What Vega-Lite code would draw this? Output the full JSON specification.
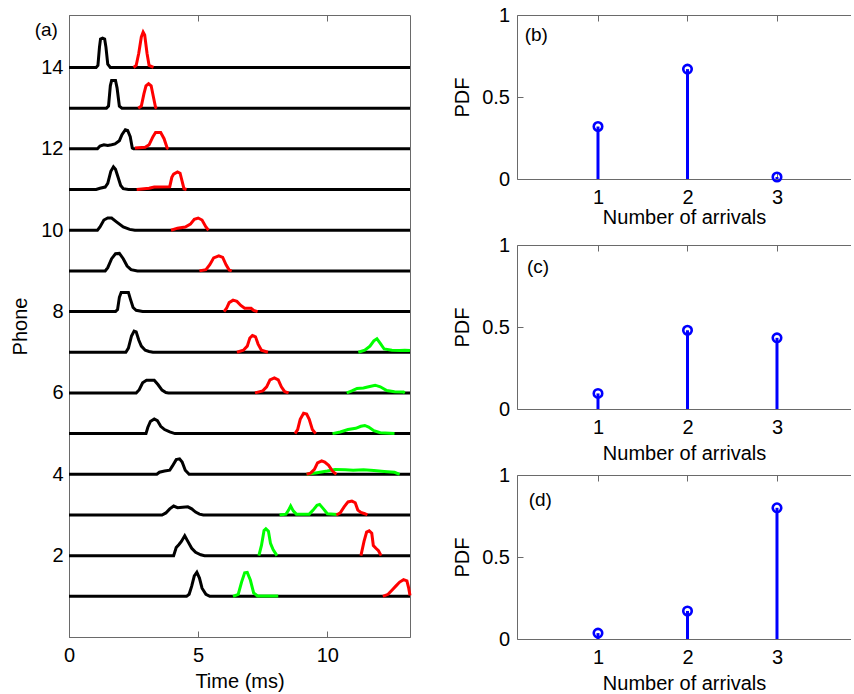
{
  "$schema": "https://vega.github.io/schema/vega-lite/v6.json",
  "padding": {"left": 10, "top": 5, "right": 0, "bottom": 0},
  "background": "white",
  "config": {
    "font": "Liberation Sans",
    "view": {"stroke": null},
    "axis": {
      "labelFont": "Liberation Sans", "titleFont": "Liberation Sans",
      "labelFontSize": 20, "titleFontSize": 20, "titleFontWeight": "normal",
      "labelColor": "#000", "titleColor": "#000",
      "domainColor": "#6a6a6a", "tickColor": "#6a6a6a",
      "tickSize": -6, "grid": false, "labelFlush": false, "labelOverlap": false, "labelBound": false
    }
  },
  "bounds": "flush",
  "spacing": 107,
  "datasets": {
    "tr": [
      {"c":"k","p":14,"t":0,"v":14},{"c":"k","p":14,"t":1.05,"v":14},{"c":"k","p":14,"t":1.12,"v":14.05},{"c":"k","p":14,"t":1.18,"v":14.5},{"c":"k","p":14,"t":1.22,"v":14.7},{"c":"k","p":14,"t":1.3,"v":14.72},{"c":"k","p":14,"t":1.38,"v":14.7},{"c":"k","p":14,"t":1.43,"v":14.5},{"c":"k","p":14,"t":1.5,"v":14.08},{"c":"k","p":14,"t":1.6,"v":14},{"c":"k","p":14,"t":13.2,"v":14},
      {"c":"r","p":14,"t":2.5,"v":14},{"c":"r","p":14,"t":2.6,"v":14.05},{"c":"r","p":14,"t":2.7,"v":14.35},{"c":"r","p":14,"t":2.8,"v":14.75},{"c":"r","p":14,"t":2.87,"v":14.87},{"c":"r","p":14,"t":2.93,"v":14.8},{"c":"r","p":14,"t":3.02,"v":14.35},{"c":"r","p":14,"t":3.1,"v":14.05},{"c":"r","p":14,"t":3.27,"v":14},
      {"c":"k","p":13,"t":0,"v":13},{"c":"k","p":13,"t":1.45,"v":13},{"c":"k","p":13,"t":1.53,"v":13.05},{"c":"k","p":13,"t":1.6,"v":13.55},{"c":"k","p":13,"t":1.65,"v":13.68},{"c":"k","p":13,"t":1.8,"v":13.68},{"c":"k","p":13,"t":1.86,"v":13.5},{"c":"k","p":13,"t":1.95,"v":13.05},{"c":"k","p":13,"t":2.05,"v":13},{"c":"k","p":13,"t":13.2,"v":13},
      {"c":"r","p":13,"t":2.68,"v":13},{"c":"r","p":13,"t":2.8,"v":13.05},{"c":"r","p":13,"t":2.9,"v":13.35},{"c":"r","p":13,"t":2.98,"v":13.55},{"c":"r","p":13,"t":3.08,"v":13.6},{"c":"r","p":13,"t":3.18,"v":13.55},{"c":"r","p":13,"t":3.26,"v":13.3},{"c":"r","p":13,"t":3.35,"v":13.02},{"c":"r","p":13,"t":3.4,"v":13},
      {"c":"k","p":12,"t":0,"v":12},{"c":"k","p":12,"t":1.1,"v":12},{"c":"k","p":12,"t":1.2,"v":12.07},{"c":"k","p":12,"t":1.35,"v":12.1},{"c":"k","p":12,"t":1.5,"v":12.08},{"c":"k","p":12,"t":1.65,"v":12.1},{"c":"k","p":12,"t":1.78,"v":12.12},{"c":"k","p":12,"t":1.95,"v":12.2},{"c":"k","p":12,"t":2.05,"v":12.35},{"c":"k","p":12,"t":2.18,"v":12.47},{"c":"k","p":12,"t":2.27,"v":12.45},{"c":"k","p":12,"t":2.37,"v":12.3},{"c":"k","p":12,"t":2.45,"v":12.02},{"c":"k","p":12,"t":2.5,"v":12},{"c":"k","p":12,"t":13.2,"v":12},
      {"c":"r","p":12,"t":2.55,"v":12.02},{"c":"r","p":12,"t":2.95,"v":12.04},{"c":"r","p":12,"t":3.1,"v":12.1},{"c":"r","p":12,"t":3.25,"v":12.3},{"c":"r","p":12,"t":3.35,"v":12.4},{"c":"r","p":12,"t":3.55,"v":12.4},{"c":"r","p":12,"t":3.68,"v":12.25},{"c":"r","p":12,"t":3.8,"v":12.02},{"c":"r","p":12,"t":3.85,"v":12},
      {"c":"k","p":11,"t":0,"v":11},{"c":"k","p":11,"t":1.05,"v":11},{"c":"k","p":11,"t":1.2,"v":11.03},{"c":"k","p":11,"t":1.4,"v":11.06},{"c":"k","p":11,"t":1.5,"v":11.15},{"c":"k","p":11,"t":1.62,"v":11.45},{"c":"k","p":11,"t":1.72,"v":11.56},{"c":"k","p":11,"t":1.8,"v":11.5},{"c":"k","p":11,"t":1.9,"v":11.3},{"c":"k","p":11,"t":2.0,"v":11.1},{"c":"k","p":11,"t":2.1,"v":11.02},{"c":"k","p":11,"t":2.3,"v":11},{"c":"k","p":11,"t":13.2,"v":11},
      {"c":"r","p":11,"t":2.62,"v":11},{"c":"r","p":11,"t":3.1,"v":11.03},{"c":"r","p":11,"t":3.3,"v":11.06},{"c":"r","p":11,"t":3.9,"v":11.07},{"c":"r","p":11,"t":3.98,"v":11.3},{"c":"r","p":11,"t":4.05,"v":11.38},{"c":"r","p":11,"t":4.2,"v":11.43},{"c":"r","p":11,"t":4.3,"v":11.4},{"c":"r","p":11,"t":4.38,"v":11.2},{"c":"r","p":11,"t":4.45,"v":11.02},{"c":"r","p":11,"t":4.55,"v":11},
      {"c":"k","p":10,"t":0,"v":10},{"c":"k","p":10,"t":1.1,"v":10},{"c":"k","p":10,"t":1.2,"v":10.08},{"c":"k","p":10,"t":1.35,"v":10.25},{"c":"k","p":10,"t":1.5,"v":10.3},{"c":"k","p":10,"t":1.65,"v":10.3},{"c":"k","p":10,"t":1.85,"v":10.2},{"c":"k","p":10,"t":2.1,"v":10.08},{"c":"k","p":10,"t":2.35,"v":10.02},{"c":"k","p":10,"t":2.55,"v":10},{"c":"k","p":10,"t":13.2,"v":10},
      {"c":"r","p":10,"t":3.95,"v":10},{"c":"r","p":10,"t":4.2,"v":10.05},{"c":"r","p":10,"t":4.5,"v":10.08},{"c":"r","p":10,"t":4.7,"v":10.15},{"c":"r","p":10,"t":4.85,"v":10.27},{"c":"r","p":10,"t":5.0,"v":10.3},{"c":"r","p":10,"t":5.15,"v":10.25},{"c":"r","p":10,"t":5.3,"v":10.08},{"c":"r","p":10,"t":5.4,"v":10},
      {"c":"k","p":9,"t":0,"v":9},{"c":"k","p":9,"t":1.4,"v":9},{"c":"k","p":9,"t":1.5,"v":9.08},{"c":"k","p":9,"t":1.65,"v":9.3},{"c":"k","p":9,"t":1.8,"v":9.42},{"c":"k","p":9,"t":1.95,"v":9.43},{"c":"k","p":9,"t":2.1,"v":9.3},{"c":"k","p":9,"t":2.25,"v":9.12},{"c":"k","p":9,"t":2.4,"v":9.03},{"c":"k","p":9,"t":2.65,"v":9},{"c":"k","p":9,"t":13.2,"v":9},
      {"c":"r","p":9,"t":5.05,"v":9},{"c":"r","p":9,"t":5.3,"v":9.03},{"c":"r","p":9,"t":5.45,"v":9.15},{"c":"r","p":9,"t":5.6,"v":9.32},{"c":"r","p":9,"t":5.8,"v":9.37},{"c":"r","p":9,"t":5.95,"v":9.33},{"c":"r","p":9,"t":6.08,"v":9.15},{"c":"r","p":9,"t":6.2,"v":9.02},{"c":"r","p":9,"t":6.3,"v":9},
      {"c":"k","p":8,"t":0,"v":8},{"c":"k","p":8,"t":1.8,"v":8},{"c":"k","p":8,"t":1.88,"v":8.05},{"c":"k","p":8,"t":1.95,"v":8.35},{"c":"k","p":8,"t":2.02,"v":8.47},{"c":"k","p":8,"t":2.3,"v":8.47},{"c":"k","p":8,"t":2.38,"v":8.3},{"c":"k","p":8,"t":2.48,"v":8.1},{"c":"k","p":8,"t":2.6,"v":8.03},{"c":"k","p":8,"t":2.85,"v":8},{"c":"k","p":8,"t":13.2,"v":8},
      {"c":"r","p":8,"t":6.0,"v":8},{"c":"r","p":8,"t":6.1,"v":8.08},{"c":"r","p":8,"t":6.2,"v":8.22},{"c":"r","p":8,"t":6.35,"v":8.28},{"c":"r","p":8,"t":6.5,"v":8.25},{"c":"r","p":8,"t":6.65,"v":8.15},{"c":"r","p":8,"t":6.8,"v":8.08},{"c":"r","p":8,"t":7.05,"v":8.08},{"c":"r","p":8,"t":7.15,"v":8.03},{"c":"r","p":8,"t":7.3,"v":8},
      {"c":"k","p":7,"t":0,"v":7},{"c":"k","p":7,"t":2.2,"v":7},{"c":"k","p":7,"t":2.3,"v":7.1},{"c":"k","p":7,"t":2.42,"v":7.4},{"c":"k","p":7,"t":2.52,"v":7.52},{"c":"k","p":7,"t":2.6,"v":7.5},{"c":"k","p":7,"t":2.7,"v":7.3},{"c":"k","p":7,"t":2.8,"v":7.15},{"c":"k","p":7,"t":2.95,"v":7.05},{"c":"k","p":7,"t":3.1,"v":7.02},{"c":"k","p":7,"t":3.25,"v":7},{"c":"k","p":7,"t":13.2,"v":7},
      {"c":"r","p":7,"t":6.5,"v":7},{"c":"r","p":7,"t":6.75,"v":7.05},{"c":"r","p":7,"t":6.9,"v":7.15},{"c":"r","p":7,"t":7.0,"v":7.35},{"c":"r","p":7,"t":7.1,"v":7.41},{"c":"r","p":7,"t":7.22,"v":7.38},{"c":"r","p":7,"t":7.32,"v":7.2},{"c":"r","p":7,"t":7.45,"v":7.05},{"c":"r","p":7,"t":7.7,"v":7},
      {"c":"g","p":7,"t":11.2,"v":7},{"c":"g","p":7,"t":11.45,"v":7.05},{"c":"g","p":7,"t":11.65,"v":7.15},{"c":"g","p":7,"t":11.8,"v":7.28},{"c":"g","p":7,"t":11.92,"v":7.33},{"c":"g","p":7,"t":12.05,"v":7.22},{"c":"g","p":7,"t":12.2,"v":7.08},{"c":"g","p":7,"t":12.5,"v":7.05},{"c":"g","p":7,"t":12.8,"v":7.04},{"c":"g","p":7,"t":13.0,"v":7.05},{"c":"g","p":7,"t":13.2,"v":7.04},
      {"c":"k","p":6,"t":0,"v":6},{"c":"k","p":6,"t":2.6,"v":6},{"c":"k","p":6,"t":2.72,"v":6.08},{"c":"k","p":6,"t":2.85,"v":6.25},{"c":"k","p":6,"t":3.0,"v":6.31},{"c":"k","p":6,"t":3.3,"v":6.31},{"c":"k","p":6,"t":3.45,"v":6.2},{"c":"k","p":6,"t":3.6,"v":6.07},{"c":"k","p":6,"t":3.75,"v":6.01},{"c":"k","p":6,"t":3.85,"v":6},{"c":"k","p":6,"t":13.2,"v":6},
      {"c":"r","p":6,"t":7.2,"v":6},{"c":"r","p":6,"t":7.5,"v":6.05},{"c":"r","p":6,"t":7.65,"v":6.15},{"c":"r","p":6,"t":7.78,"v":6.32},{"c":"r","p":6,"t":7.95,"v":6.37},{"c":"r","p":6,"t":8.1,"v":6.32},{"c":"r","p":6,"t":8.22,"v":6.15},{"c":"r","p":6,"t":8.35,"v":6.03},{"c":"r","p":6,"t":8.5,"v":6},
      {"c":"g","p":6,"t":10.75,"v":6},{"c":"g","p":6,"t":10.95,"v":6.05},{"c":"g","p":6,"t":11.15,"v":6.11},{"c":"g","p":6,"t":11.4,"v":6.12},{"c":"g","p":6,"t":11.6,"v":6.15},{"c":"g","p":6,"t":11.85,"v":6.19},{"c":"g","p":6,"t":12.05,"v":6.15},{"c":"g","p":6,"t":12.3,"v":6.06},{"c":"g","p":6,"t":12.6,"v":6.03},{"c":"g","p":6,"t":12.95,"v":6.02},{"c":"g","p":6,"t":13.0,"v":6},
      {"c":"k","p":5,"t":0,"v":5},{"c":"k","p":5,"t":2.98,"v":5},{"c":"k","p":5,"t":3.05,"v":5.15},{"c":"k","p":5,"t":3.15,"v":5.3},{"c":"k","p":5,"t":3.3,"v":5.36},{"c":"k","p":5,"t":3.42,"v":5.32},{"c":"k","p":5,"t":3.55,"v":5.18},{"c":"k","p":5,"t":3.7,"v":5.1},{"c":"k","p":5,"t":3.9,"v":5.04},{"c":"k","p":5,"t":4.1,"v":5},{"c":"k","p":5,"t":13.2,"v":5},
      {"c":"r","p":5,"t":8.75,"v":5},{"c":"r","p":5,"t":8.85,"v":5.1},{"c":"r","p":5,"t":8.95,"v":5.35},{"c":"r","p":5,"t":9.08,"v":5.5},{"c":"r","p":5,"t":9.2,"v":5.48},{"c":"r","p":5,"t":9.3,"v":5.35},{"c":"r","p":5,"t":9.42,"v":5.1},{"c":"r","p":5,"t":9.55,"v":5},
      {"c":"g","p":5,"t":10.2,"v":5},{"c":"g","p":5,"t":10.5,"v":5.04},{"c":"g","p":5,"t":10.8,"v":5.1},{"c":"g","p":5,"t":11.1,"v":5.13},{"c":"g","p":5,"t":11.3,"v":5.18},{"c":"g","p":5,"t":11.45,"v":5.2},{"c":"g","p":5,"t":11.6,"v":5.16},{"c":"g","p":5,"t":11.8,"v":5.07},{"c":"g","p":5,"t":12.05,"v":5.02},{"c":"g","p":5,"t":12.6,"v":5},
      {"c":"k","p":4,"t":0,"v":4},{"c":"k","p":4,"t":3.4,"v":4},{"c":"k","p":4,"t":3.5,"v":4.05},{"c":"k","p":4,"t":3.7,"v":4.08},{"c":"k","p":4,"t":3.9,"v":4.1},{"c":"k","p":4,"t":4.0,"v":4.2},{"c":"k","p":4,"t":4.15,"v":4.36},{"c":"k","p":4,"t":4.28,"v":4.38},{"c":"k","p":4,"t":4.38,"v":4.3},{"c":"k","p":4,"t":4.5,"v":4.1},{"c":"k","p":4,"t":4.65,"v":4},{"c":"k","p":4,"t":13.2,"v":4},
      {"c":"g","p":4,"t":9.2,"v":4},{"c":"g","p":4,"t":9.6,"v":4.04},{"c":"g","p":4,"t":10.0,"v":4.08},{"c":"g","p":4,"t":10.3,"v":4.12},{"c":"g","p":4,"t":10.7,"v":4.11},{"c":"g","p":4,"t":11.0,"v":4.1},{"c":"g","p":4,"t":11.4,"v":4.11},{"c":"g","p":4,"t":11.8,"v":4.09},{"c":"g","p":4,"t":12.2,"v":4.07},{"c":"g","p":4,"t":12.6,"v":4.05},{"c":"g","p":4,"t":12.8,"v":4},
      {"c":"r","p":4,"t":9.2,"v":4},{"c":"r","p":4,"t":9.35,"v":4.03},{"c":"r","p":4,"t":9.5,"v":4.12},{"c":"r","p":4,"t":9.62,"v":4.28},{"c":"r","p":4,"t":9.78,"v":4.33},{"c":"r","p":4,"t":9.9,"v":4.3},{"c":"r","p":4,"t":10.05,"v":4.22},{"c":"r","p":4,"t":10.2,"v":4.08},{"c":"r","p":4,"t":10.35,"v":4},
      {"c":"k","p":3,"t":0,"v":3},{"c":"k","p":3,"t":3.6,"v":3},{"c":"k","p":3,"t":3.75,"v":3.05},{"c":"k","p":3,"t":3.9,"v":3.15},{"c":"k","p":3,"t":4.05,"v":3.22},{"c":"k","p":3,"t":4.2,"v":3.18},{"c":"k","p":3,"t":4.4,"v":3.19},{"c":"k","p":3,"t":4.6,"v":3.2},{"c":"k","p":3,"t":4.75,"v":3.15},{"c":"k","p":3,"t":4.9,"v":3.07},{"c":"k","p":3,"t":5.05,"v":3.02},{"c":"k","p":3,"t":5.2,"v":3},{"c":"k","p":3,"t":13.2,"v":3},
      {"c":"g","p":3,"t":8.15,"v":3},{"c":"g","p":3,"t":8.4,"v":3.02},{"c":"g","p":3,"t":8.5,"v":3.12},{"c":"g","p":3,"t":8.58,"v":3.22},{"c":"g","p":3,"t":8.68,"v":3.1},{"c":"g","p":3,"t":8.8,"v":3.02},{"c":"g","p":3,"t":9.3,"v":3.02},{"c":"g","p":3,"t":9.45,"v":3.12},{"c":"g","p":3,"t":9.6,"v":3.24},{"c":"g","p":3,"t":9.7,"v":3.26},{"c":"g","p":3,"t":9.85,"v":3.15},{"c":"g","p":3,"t":10.0,"v":3.03},{"c":"g","p":3,"t":10.4,"v":3.01},
      {"c":"r","p":3,"t":10.35,"v":3},{"c":"r","p":3,"t":10.5,"v":3.05},{"c":"r","p":3,"t":10.65,"v":3.2},{"c":"r","p":3,"t":10.8,"v":3.32},{"c":"r","p":3,"t":10.95,"v":3.34},{"c":"r","p":3,"t":11.08,"v":3.3},{"c":"r","p":3,"t":11.18,"v":3.12},{"c":"r","p":3,"t":11.3,"v":3.06},{"c":"r","p":3,"t":11.45,"v":3.03},{"c":"r","p":3,"t":11.55,"v":3},
      {"c":"k","p":2,"t":0,"v":2},{"c":"k","p":2,"t":4.05,"v":2},{"c":"k","p":2,"t":4.15,"v":2.2},{"c":"k","p":2,"t":4.25,"v":2.27},{"c":"k","p":2,"t":4.35,"v":2.35},{"c":"k","p":2,"t":4.48,"v":2.49},{"c":"k","p":2,"t":4.6,"v":2.35},{"c":"k","p":2,"t":4.75,"v":2.18},{"c":"k","p":2,"t":4.9,"v":2.08},{"c":"k","p":2,"t":5.1,"v":2.02},{"c":"k","p":2,"t":5.25,"v":2},{"c":"k","p":2,"t":13.2,"v":2},
      {"c":"g","p":2,"t":7.35,"v":2},{"c":"g","p":2,"t":7.45,"v":2.25},{"c":"g","p":2,"t":7.55,"v":2.62},{"c":"g","p":2,"t":7.62,"v":2.66},{"c":"g","p":2,"t":7.72,"v":2.6},{"c":"g","p":2,"t":7.8,"v":2.3},{"c":"g","p":2,"t":7.9,"v":2.15},{"c":"g","p":2,"t":8.05,"v":2},
      {"c":"r","p":2,"t":11.3,"v":2},{"c":"r","p":2,"t":11.42,"v":2.35},{"c":"r","p":2,"t":11.52,"v":2.58},{"c":"r","p":2,"t":11.62,"v":2.61},{"c":"r","p":2,"t":11.72,"v":2.55},{"c":"r","p":2,"t":11.78,"v":2.25},{"c":"r","p":2,"t":11.88,"v":2.18},{"c":"r","p":2,"t":11.98,"v":2.12},{"c":"r","p":2,"t":12.08,"v":2},
      {"c":"k","p":1,"t":0,"v":1},{"c":"k","p":1,"t":4.55,"v":1},{"c":"k","p":1,"t":4.65,"v":1.05},{"c":"k","p":1,"t":4.75,"v":1.25},{"c":"k","p":1,"t":4.85,"v":1.5},{"c":"k","p":1,"t":4.95,"v":1.59},{"c":"k","p":1,"t":5.05,"v":1.45},{"c":"k","p":1,"t":5.15,"v":1.2},{"c":"k","p":1,"t":5.3,"v":1.05},{"c":"k","p":1,"t":5.45,"v":1},{"c":"k","p":1,"t":13.2,"v":1},
      {"c":"g","p":1,"t":6.35,"v":1},{"c":"g","p":1,"t":6.55,"v":1.05},{"c":"g","p":1,"t":6.68,"v":1.35},{"c":"g","p":1,"t":6.8,"v":1.58},{"c":"g","p":1,"t":6.9,"v":1.59},{"c":"g","p":1,"t":7.02,"v":1.4},{"c":"g","p":1,"t":7.15,"v":1.08},{"c":"g","p":1,"t":7.3,"v":1.01},{"c":"g","p":1,"t":8.1,"v":1.01},
      {"c":"r","p":1,"t":12.15,"v":1},{"c":"r","p":1,"t":12.35,"v":1.05},{"c":"r","p":1,"t":12.5,"v":1.15},{"c":"r","p":1,"t":12.65,"v":1.25},{"c":"r","p":1,"t":12.8,"v":1.35},{"c":"r","p":1,"t":12.95,"v":1.41},{"c":"r","p":1,"t":13.08,"v":1.38},{"c":"r","p":1,"t":13.15,"v":1.2},{"c":"r","p":1,"t":13.2,"v":1.02}
    ],
    "pdf": [
      {"panel":"b","n":1,"pdf":0.32},{"panel":"b","n":2,"pdf":0.67},{"panel":"b","n":3,"pdf":0.012},
      {"panel":"c","n":1,"pdf":0.095},{"panel":"c","n":2,"pdf":0.48},{"panel":"c","n":3,"pdf":0.434},
      {"panel":"d","n":1,"pdf":0.036},{"panel":"d","n":2,"pdf":0.171},{"panel":"d","n":3,"pdf":0.8}
    ],
    "one": [{"k": 1}]
  },
  "hconcat": [
    {
      "width": 341, "height": 622,
      "view": {"stroke": "#6a6a6a", "strokeWidth": 1},
      "layer": [
        {
          "data": {"name": "tr"},
          "transform": [{"filter": "datum.c === 'k'"}],
          "mark": {"type": "line", "color": "#000000", "strokeWidth": 3},
          "encoding": {
            "x": {"field": "t", "type": "quantitative", "scale": {"domain": [0, 13.2], "nice": false, "zero": false},
                  "axis": {"values": [0, 5, 10], "title": "Time (ms)", "labelPadding": 14, "titlePadding": 6}},
            "y": {"field": "v", "type": "quantitative", "scale": {"domain": [0, 15.29], "nice": false, "zero": false},
                  "axis": {"values": [2, 4, 6, 8, 10, 12, 14], "format": "d", "title": "Phone", "labelPadding": 12, "titlePadding": 10}},
            "detail": {"field": "p"}
          }
        },
        {
          "data": {"name": "tr"},
          "transform": [{"filter": "datum.c === 'g'"}],
          "mark": {"type": "line", "color": "#00FF00", "strokeWidth": 3},
          "encoding": {
            "x": {"field": "t", "type": "quantitative", "axis": {"orient": "top", "values": [0, 5, 10], "labels": false, "domain": false, "title": null}},
            "y": {"field": "v", "type": "quantitative", "axis": null},
            "detail": {"field": "p"}
          }
        },
        {
          "data": {"name": "tr"},
          "transform": [{"filter": "datum.c === 'r'"}],
          "mark": {"type": "line", "color": "#FF0000", "strokeWidth": 3},
          "encoding": {
            "x": {"field": "t", "type": "quantitative", "axis": null},
            "y": {"field": "v", "type": "quantitative", "axis": null},
            "detail": {"field": "p"}
          }
        },
        {
          "data": {"name": "one"},
          "mark": {"type": "text", "fontSize": 19, "fontWeight": "normal", "font": "Liberation Sans", "color": "#000", "align": "center", "baseline": "middle"},
          "encoding": {
            "x": {"datum": -0.88, "type": "quantitative", "axis": null},
            "y": {"datum": 14.91, "type": "quantitative", "axis": null},
            "text": {"value": "(a)"}
          }
        }
      ],
      "resolve": {"axis": {"x": "independent", "y": "independent"}}
    },
    {
      "bounds": "flush",
      "spacing": 66,
      "vconcat": [
        {
          "width": 334, "height": 164,
          "layer": [
            {
              "data": {"name": "pdf"},
              "transform": [{"filter": "datum.panel === 'b'"}],
              "mark": {"type": "rule", "color": "#0000FF", "strokeWidth": 3},
              "encoding": {
                "x": {"field": "n", "type": "quantitative", "scale": {"domain": [0.095, 3.827], "nice": false, "zero": false},
                      "axis": {"values": [1, 2, 3], "format": "d", "title": "Number of arrivals", "labelPadding": 14, "titlePadding": 0}},
                "y": {"field": "pdf", "type": "quantitative", "scale": {"domain": [0, 1], "nice": false},
                      "axis": {"values": [0, 0.5, 1], "format": "~g", "title": "PDF", "labelPadding": 13.5, "titlePadding": 9}},
                "y2": {"datum": 0}
              }
            },
            {
              "data": {"name": "pdf"},
              "transform": [{"filter": "datum.panel === 'b'"}],
              "mark": {"type": "point", "shape": "circle", "filled": false, "color": "#0000FF", "strokeWidth": 2.6, "size": 72, "opacity": 1},
              "encoding": {
                "x": {"field": "n", "type": "quantitative", "axis": {"orient": "top", "values": [1, 2, 3], "labels": false, "title": null}},
                "y": {"field": "pdf", "type": "quantitative", "axis": null}
              }
            },
            {
              "data": {"name": "one"},
              "mark": {"type": "text", "fontSize": 19, "fontWeight": "normal", "font": "Liberation Sans", "color": "#000", "align": "center", "baseline": "middle"},
              "encoding": {
                "x": {"datum": 0.31, "type": "quantitative", "axis": null},
                "y": {"datum": 0.88, "type": "quantitative", "axis": null},
                "text": {"value": "(b)"}
              }
            }
          ],
          "resolve": {"axis": {"x": "independent", "y": "independent"}}
        },
        {
          "width": 334, "height": 164,
          "layer": [
            {
              "data": {"name": "pdf"},
              "transform": [{"filter": "datum.panel === 'c'"}],
              "mark": {"type": "rule", "color": "#0000FF", "strokeWidth": 3},
              "encoding": {
                "x": {"field": "n", "type": "quantitative", "scale": {"domain": [0.095, 3.827], "nice": false, "zero": false},
                      "axis": {"values": [1, 2, 3], "format": "d", "title": "Number of arrivals", "labelPadding": 14, "titlePadding": 6}},
                "y": {"field": "pdf", "type": "quantitative", "scale": {"domain": [0, 1], "nice": false},
                      "axis": {"values": [0, 0.5, 1], "format": "~g", "title": "PDF", "labelPadding": 13.5, "titlePadding": 9}},
                "y2": {"datum": 0}
              }
            },
            {
              "data": {"name": "pdf"},
              "transform": [{"filter": "datum.panel === 'c'"}],
              "mark": {"type": "point", "shape": "circle", "filled": false, "color": "#0000FF", "strokeWidth": 2.6, "size": 72, "opacity": 1},
              "encoding": {
                "x": {"field": "n", "type": "quantitative", "axis": {"orient": "top", "values": [1, 2, 3], "labels": false, "title": null}},
                "y": {"field": "pdf", "type": "quantitative", "axis": null}
              }
            },
            {
              "data": {"name": "one"},
              "mark": {"type": "text", "fontSize": 19, "fontWeight": "normal", "font": "Liberation Sans", "color": "#000", "align": "center", "baseline": "middle"},
              "encoding": {
                "x": {"datum": 0.33, "type": "quantitative", "axis": null},
                "y": {"datum": 0.867, "type": "quantitative", "axis": null},
                "text": {"value": "(c)"}
              }
            }
          ],
          "resolve": {"axis": {"x": "independent", "y": "independent"}}
        },
        {
          "width": 334, "height": 164,
          "layer": [
            {
              "data": {"name": "pdf"},
              "transform": [{"filter": "datum.panel === 'd'"}],
              "mark": {"type": "rule", "color": "#0000FF", "strokeWidth": 3},
              "encoding": {
                "x": {"field": "n", "type": "quantitative", "scale": {"domain": [0.095, 3.827], "nice": false, "zero": false},
                      "axis": {"values": [1, 2, 3], "format": "d", "title": "Number of arrivals", "labelPadding": 14, "titlePadding": 6}},
                "y": {"field": "pdf", "type": "quantitative", "scale": {"domain": [0, 1], "nice": false},
                      "axis": {"values": [0, 0.5, 1], "format": "~g", "title": "PDF", "labelPadding": 13.5, "titlePadding": 9}},
                "y2": {"datum": 0}
              }
            },
            {
              "data": {"name": "pdf"},
              "transform": [{"filter": "datum.panel === 'd'"}],
              "mark": {"type": "point", "shape": "circle", "filled": false, "color": "#0000FF", "strokeWidth": 2.6, "size": 72, "opacity": 1},
              "encoding": {
                "x": {"field": "n", "type": "quantitative", "axis": {"orient": "top", "values": [1, 2, 3], "labels": false, "title": null}},
                "y": {"field": "pdf", "type": "quantitative", "axis": null}
              }
            },
            {
              "data": {"name": "one"},
              "mark": {"type": "text", "fontSize": 19, "fontWeight": "normal", "font": "Liberation Sans", "color": "#000", "align": "center", "baseline": "middle"},
              "encoding": {
                "x": {"datum": 0.355, "type": "quantitative", "axis": null},
                "y": {"datum": 0.849, "type": "quantitative", "axis": null},
                "text": {"value": "(d)"}
              }
            }
          ],
          "resolve": {"axis": {"x": "independent", "y": "independent"}}
        }
      ]
    }
  ]
}
